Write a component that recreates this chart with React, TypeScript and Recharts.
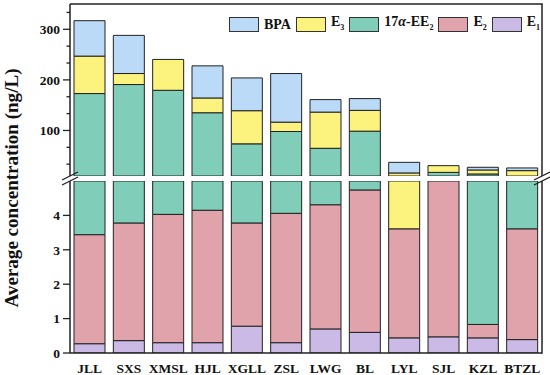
import React from 'react';
import { BarChart, Bar, XAxis, YAxis } from 'recharts';

// ---- data (ng/L) ----
const sites = ['JLL', 'SXS', 'XMSL', 'HJL', 'XGLL', 'ZSL', 'LWG', 'BL', 'LYL', 'SJL', 'KZL', 'BTZL'];
const e1 = [0.27, 0.36, 0.30, 0.30, 0.78, 0.30, 0.70, 0.60, 0.44, 0.47, 0.44, 0.39];
const e2 = [3.17, 3.42, 3.73, 3.85, 3.00, 3.76, 3.61, 4.14, 3.17, 8.5, 0.39, 3.22];
const ee2 = [169.5, 187.0, 175.4, 130.9, 69.8, 93.9, 60.5, 93.9, 0, 8.2, 13.2, 5.4];
const e3 = [74.1, 21.8, 61.0, 29.2, 65.5, 18.5, 71.5, 41.1, 12.4, 13.3, 7.9, 11.6];
const bpa = [70.0, 75.4, 0, 63.5, 64.8, 96.1, 24.7, 23.3, 21.0, 0, 5.3, 5.3];

const upperMajorTicks = [100, 200, 300];
const lowerMajorTicks = [0, 1, 2, 3, 4];
const upperDomain: [number, number] = [10, 350];
const lowerDomain: [number, number] = [0, 5];

const data = sites.map((site, i) => ({
  site,
  e1: e1[i],
  e2: e2[i],
  ee2: ee2[i],
  e3: e3[i],
  bpa: bpa[i],
}));

const series = [
  { key: 'e1', color: '#cbb9e6' },
  { key: 'e2', color: '#e0a3ab' },
  { key: 'ee2', color: '#80cdb9' },
  { key: 'e3', color: '#fcf27e' },
  { key: 'bpa', color: '#badaf7' },
];

// minor ticks: two between majors
const upperAllTicks: number[] = [];
for (let v = 100 / 3; v < 350; v += 100 / 3) upperAllTicks.push(Math.round(v * 1000) / 1000);

const FONT = '"Liberation Serif", "Times New Roman", serif';
const INK = '#222';

const YTick = (props: any) => {
  const { x, y, payload, majors } = props;
  const v = payload.value;
  const isMajor = majors.some((m: number) => Math.abs(m - v) < 0.01);
  if (!isMajor) {
    return <line x1={x - 3.5} x2={x} y1={y} y2={y} stroke={INK} strokeWidth={1.3} />;
  }
  return (
    <g>
      <line x1={x - 7} x2={x} y1={y} y2={y} stroke={INK} strokeWidth={1.3} />
      <text x={x - 10} y={y} dy="0.35em" textAnchor="end" fontFamily={FONT} fontWeight="bold" fontSize={13.5} fill="#111">
        {Math.round(v)}
      </text>
    </g>
  );
};

const XTick = (props: any) => {
  const { x, y, payload } = props;
  return (
    <text x={x} y={y + 20} textAnchor="middle" fontFamily={FONT} fontWeight="bold" fontSize={13.5} fill="#111">
      {payload.value}
    </text>
  );
};

const legendItems = [
  { color: '#badaf7', label: <span>BPA</span> },
  { color: '#fcf27e', label: <span>E<sub style={{ fontSize: 8 }}>3</sub></span> },
  { color: '#80cdb9', label: <span>17<i>α</i>-EE<sub style={{ fontSize: 8 }}>2</sub></span> },
  { color: '#e0a3ab', label: <span>E<sub style={{ fontSize: 8 }}>2</sub></span> },
  { color: '#cbb9e6', label: <span>E<sub style={{ fontSize: 8 }}>1</sub></span> },
];

const renderBars = () =>
  series.map((s) => (
    <Bar
      key={s.key}
      dataKey={s.key}
      stackId="a"
      fill={s.color}
      stroke={INK}
      strokeWidth={1}
      isAnimationActive={false}
    />
  ));

export default function App() {
  return (
    <div style={{ position: 'absolute', left: 0, top: 0, width: 550, height: 375, background: '#fff', overflow: 'hidden' }}>
      <div style={{ position: 'absolute', left: 0, top: 0 }}>
        <BarChart width={550} height={176} data={data} margin={{ top: 4, right: 8, left: 0, bottom: 0 }} barSize={31}>
          <XAxis dataKey="site" hide />
          <YAxis
            type="number"
            domain={upperDomain}
            allowDataOverflow
            ticks={upperAllTicks}
            interval={0}
            width={70}
            tickSize={0}
            tickMargin={0}
            tickLine={false}
            axisLine={{ stroke: INK, strokeWidth: 1.5 }}
            tick={<YTick majors={upperMajorTicks} />}
          />
          {renderBars()}
        </BarChart>
      </div>
      <div style={{ position: 'absolute', left: 0, top: 181 }}>
        <BarChart width={550} height={194} data={data} margin={{ top: 0, right: 8, left: 0, bottom: 0 }} barSize={31}>
          <XAxis
            dataKey="site"
            height={22}
            interval={0}
            tickSize={0}
            tickMargin={0}
            tickLine={false}
            axisLine={{ stroke: INK, strokeWidth: 1.5 }}
            tick={<XTick />}
          />
          <YAxis
            type="number"
            domain={lowerDomain}
            allowDataOverflow
            ticks={lowerMajorTicks}
            interval={0}
            width={70}
            tickSize={0}
            tickMargin={0}
            tickLine={false}
            axisLine={{ stroke: INK, strokeWidth: 1.5 }}
            tick={<YTick majors={lowerMajorTicks} />}
          />
          {renderBars()}
        </BarChart>
      </div>
      <svg width={550} height={375} style={{ position: 'absolute', left: 0, top: 0, pointerEvents: 'none' }}>
        <line x1={70} x2={542.75} y1={4} y2={4} stroke={INK} strokeWidth={1.5} />
        <line x1={542} x2={542} y1={4} y2={176} stroke={INK} strokeWidth={1.5} />
        <line x1={542} x2={542} y1={181} y2={353.75} stroke={INK} strokeWidth={1.5} />
        {/* axis break marks */}
        <line x1={62} y1={180} x2={78} y2={172} stroke={INK} strokeWidth={1.3} />
        <line x1={62} y1={185} x2={78} y2={177} stroke={INK} strokeWidth={1.3} />
        <line x1={534} y1={180} x2={550} y2={172} stroke={INK} strokeWidth={1.3} />
        <line x1={534} y1={185} x2={550} y2={177} stroke={INK} strokeWidth={1.3} />
        <text
          transform="translate(18,188) rotate(-90)"
          textAnchor="middle"
          fontFamily={FONT}
          fontWeight="bold"
          fontSize={18}
          fill="#111"
          textLength={239}
          lengthAdjust="spacingAndGlyphs"
        >
          Average concentration (ng/L)
        </text>
      </svg>
      <div
        style={{
          position: 'absolute',
          left: 229,
          top: 14,
          display: 'flex',
          alignItems: 'center',
          fontFamily: FONT,
          fontWeight: 'bold',
          fontSize: 14,
          color: '#111',
          lineHeight: '16px',
          whiteSpace: 'nowrap',
        }}
      >
        {legendItems.map((it, i) => (
          <div key={i} style={{ display: 'flex', alignItems: 'center', marginRight: 5 }}>
            <span
              style={{
                display: 'inline-block',
                width: 28,
                height: 13,
                background: it.color,
                border: '1px solid #333',
                marginRight: 5,
              }}
            />
            {it.label}
          </div>
        ))}
      </div>
    </div>
  );
}
